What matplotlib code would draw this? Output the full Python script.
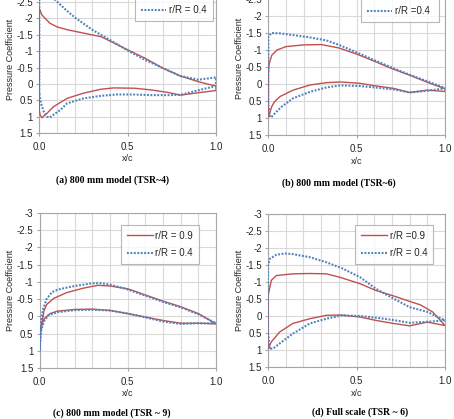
import matplotlib

matplotlib.use("Agg")

import matplotlib.pyplot as plt
from matplotlib.ticker import FuncFormatter, MultipleLocator

plt.rcParams["font.family"] = ["Liberation Sans", "DejaVu Sans"]
plt.rcParams["axes.unicode_minus"] = False

RED = "#C0504D"
BLUE = "#4F81BD"

# ---------------------------------------------------------------- data
# (a) 800 mm model, TSR ~ 4
a_red_up_x = [0.0, 0.0, 0.015, 0.06, 0.1, 0.16, 0.25, 0.35, 0.44, 0.5, 0.6, 0.7, 0.8, 0.9, 0.95, 1.0]
a_red_up_cp = [0.8, -2.3, -2.1, -1.85, -1.74, -1.65, -1.55, -1.44, -1.2, -1.04, -0.78, -0.48, -0.24, -0.07, 0.0, 0.06]
a_red_lo_x = [1.0, 0.91, 0.8, 0.73, 0.63, 0.54, 0.42, 0.35, 0.25, 0.157, 0.081, 0.044, 0.025, 0.015, 0.005, 0.0]
a_red_lo_cp = [0.2, 0.26, 0.34, 0.26, 0.18, 0.13, 0.12, 0.16, 0.28, 0.44, 0.69, 0.89, 0.98, 1.03, 0.95, 0.8]
a_blue_up_x = [0.0, 0.0, 0.05, 0.09, 0.15, 0.2, 0.3, 0.4, 0.5, 0.6, 0.7, 0.8, 0.9, 1.0]
a_blue_up_cp = [0.3, -3.3, -3.0, -2.56, -2.26, -2.03, -1.65, -1.34, -1.02, -0.73, -0.48, -0.24, -0.13, -0.2]
a_blue_lo_x = [1.0, 0.91, 0.8, 0.73, 0.63, 0.53, 0.44, 0.35, 0.25, 0.157, 0.12, 0.09, 0.06, 0.044, 0.025, 0.01, 0.0]
a_blue_lo_cp = [0.06, 0.18, 0.33, 0.34, 0.34, 0.32, 0.32, 0.36, 0.44, 0.59, 0.79, 0.9, 1.02, 1.0, 0.84, 0.6, 0.3]

# (b) 800 mm model, TSR ~ 6
b_red_up_x = [0.0, 0.0, 0.005, 0.02, 0.05, 0.1, 0.2, 0.3, 0.4, 0.5, 0.6, 0.7, 0.8, 0.9, 1.0]
b_red_up_cp = [0.95, -0.3, -0.6, -0.85, -1.0, -1.1, -1.15, -1.16, -1.06, -0.88, -0.67, -0.45, -0.26, -0.05, 0.14]
b_red_lo_x = [1.0, 0.9, 0.8, 0.71, 0.6, 0.52, 0.41, 0.33, 0.236, 0.14, 0.066, 0.035, 0.019, 0.005, 0.0]
b_red_lo_cp = [0.22, 0.18, 0.25, 0.13, 0.05, -0.02, -0.06, -0.04, 0.03, 0.18, 0.37, 0.52, 0.67, 0.9, 0.96]
b_blue_up_x = [0.01, 0.0, 0.0, 0.019, 0.066, 0.14, 0.236, 0.33, 0.4, 0.5, 0.6, 0.7, 0.8, 0.9, 1.0]
b_blue_up_cp = [0.97, 0.6, -1.4, -1.5, -1.49, -1.44, -1.37, -1.28, -1.15, -0.93, -0.7, -0.48, -0.27, -0.08, 0.12]
b_blue_lo_x = [1.0, 0.9, 0.8, 0.71, 0.6, 0.52, 0.41, 0.33, 0.236, 0.14, 0.075, 0.04, 0.02, 0.01]
b_blue_lo_cp = [0.13, 0.2, 0.25, 0.16, 0.1, 0.06, 0.04, 0.1, 0.23, 0.42, 0.67, 0.85, 0.96, 0.98]

# (c) 800 mm model, TSR ~ 9
c_red_up_x = [0.0, 0.005, 0.015, 0.025, 0.04, 0.08, 0.155, 0.25, 0.33, 0.4, 0.5, 0.6, 0.7, 0.8, 0.9, 1.0]
c_red_up_cp = [1.0, 0.44, 0.15, -0.15, -0.34, -0.52, -0.69, -0.82, -0.9, -0.88, -0.8, -0.62, -0.44, -0.28, -0.08, 0.22]
c_red_lo_x = [1.0, 0.9, 0.8, 0.7, 0.6, 0.5, 0.4, 0.3, 0.2, 0.1, 0.06, 0.03, 0.015, 0.005, 0.0]
c_red_lo_cp = [0.22, 0.2, 0.2, 0.12, 0.02, -0.08, -0.17, -0.21, -0.2, -0.15, -0.08, 0.05, 0.2, 0.45, 1.0]
c_blue_up_x = [0.0, 0.005, 0.01, 0.02, 0.04, 0.07, 0.1, 0.15, 0.2, 0.3, 0.35, 0.4, 0.5, 0.6, 0.7, 0.8, 0.9, 1.0]
c_blue_up_cp = [1.0, 0.35, 0.1, -0.2, -0.5, -0.7, -0.77, -0.83, -0.88, -0.96, -0.96, -0.92, -0.78, -0.6, -0.42, -0.26, -0.06, 0.2]
c_blue_lo_x = [1.0, 0.9, 0.8, 0.7, 0.6, 0.5, 0.4, 0.3, 0.2, 0.1, 0.05, 0.025, 0.01, 0.0]
c_blue_lo_cp = [0.2, 0.2, 0.22, 0.15, 0.03, -0.08, -0.17, -0.19, -0.18, -0.12, -0.03, 0.15, 0.4, 1.0]

# (d) Full scale, TSR ~ 6
d_red_up_x = [0.0, 0.0, 0.019, 0.047, 0.14, 0.235, 0.33, 0.405, 0.52, 0.61, 0.71, 0.8, 0.86, 0.93, 1.0]
d_red_up_cp = [0.96, -0.6, -1.05, -1.19, -1.24, -1.25, -1.24, -1.14, -0.95, -0.75, -0.59, -0.43, -0.33, -0.12, 0.28]
d_red_lo_x = [1.0, 0.9, 0.8, 0.71, 0.61, 0.52, 0.405, 0.33, 0.236, 0.14, 0.066, 0.019, 0.0]
d_red_lo_cp = [0.28, 0.18, 0.29, 0.22, 0.13, 0.03, -0.03, -0.02, 0.08, 0.22, 0.47, 0.76, 0.96]
d_blue_up_x = [0.01, 0.0, 0.0, 0.01, 0.047, 0.094, 0.14, 0.236, 0.33, 0.42, 0.52, 0.61, 0.71, 0.8, 0.9, 1.0]
d_blue_up_cp = [0.96, 0.5, -1.5, -1.68, -1.8, -1.84, -1.82, -1.73, -1.58, -1.4, -1.14, -0.8, -0.51, -0.26, -0.12, 0.13]
d_blue_lo_x = [1.0, 0.9, 0.8, 0.71, 0.61, 0.52, 0.42, 0.33, 0.236, 0.14, 0.066, 0.028, 0.01]
d_blue_lo_cp = [0.13, 0.17, 0.2, 0.12, 0.05, 0.0, -0.02, 0.08, 0.22, 0.52, 0.81, 0.96, 0.96]

captions = [
    "(a) 800 mm model (TSR~4)",
    "(b) 800 mm model (TSR~6)",
    "(c) 800 mm model (TSR ~ 9)",
    "(d) Full scale (TSR ~ 6)",
]
legend_labels = [
    ("r/R = 0.9", "r/R = 0.4"),
    ("r/R = 0.9", "r/R =0.4"),
    ("r/R = 0.9", "r/R = 0.4"),
    ("r/R =0.9", "r/R = 0.4"),
]

W, H = 454, 419


def fig_rect(left, top, right, bottom):
    """Pixel box (from top-left) -> figure fraction rect."""
    return [left / W, 1 - bottom / H, (right - left) / W, (bottom - top) / H]


def draw_panel(fig, rect, red, blue, labels, caption, legend_loc, legend_anchor,
               xlabel_y, caption_y, caption_x):
    ax = fig.add_axes(rect)

    red_x = red[0] + red[2]
    red_cp = red[1] + red[3]
    blue_x = blue[0] + blue[2]
    blue_cp = blue[1] + blue[3]

    ax.plot(red_x, red_cp, color=RED, lw=1.0, label=labels[0], zorder=3)
    ax.plot(blue_x, blue_cp, color=BLUE, lw=1.5, dashes=(0.9, 0.75),
            dash_capstyle="butt", label=labels[1], zorder=3)

    ax.set_xlim(0, 1)
    ax.set_ylim(1.5, -3)
    ax.xaxis.set_major_locator(MultipleLocator(0.5))
    ax.xaxis.set_minor_locator(MultipleLocator(0.1))
    ax.yaxis.set_major_locator(MultipleLocator(0.5))
    ax.xaxis.set_major_formatter(FuncFormatter(lambda v, p: f"{v:.1f}"))
    ax.yaxis.set_major_formatter(FuncFormatter(lambda v, p: f"{v:g}"))

    ax.grid(True, which="both", axis="x", color="#d9d9d9", lw=0.8)
    ax.grid(True, which="major", axis="y", color="#d9d9d9", lw=0.8)
    ax.set_axisbelow(True)
    for spine in ax.spines.values():
        spine.set_color("#a6a6a6")
        spine.set_linewidth(0.8)

    ax.tick_params(axis="both", which="major", labelsize=7, length=2.5,
                   color="#a6a6a6", labelcolor="#262626", pad=2)
    ax.tick_params(axis="x", which="minor", length=0)
    ax.tick_params(axis="x", pad=4)

    ax.set_ylabel("Pressure Coefficient", fontsize=6.5, color="#262626", labelpad=1)

    leg = ax.legend(loc=legend_loc, bbox_to_anchor=legend_anchor, fontsize=7,
                    frameon=True, fancybox=False, handlelength=2.6,
                    handletextpad=0.3, labelspacing=0.75, borderpad=0.6,
                    borderaxespad=0)
    leg.get_frame().set_edgecolor("#a6a6a6")
    leg.get_frame().set_linewidth(0.8)
    for text in leg.get_texts():
        text.set_color("#262626")

    x_center = rect[0] + rect[2] / 2
    fig.text(x_center, 1 - xlabel_y / H, "x/c", ha="center", va="center",
             fontsize=6.5, color="#262626")
    fig.text(caption_x / W, 1 - caption_y / H, caption, ha="center", va="center",
             fontsize=7, fontweight="bold", family=["Liberation Serif", "DejaVu Serif"])
    return ax


fig = plt.figure(figsize=(W / 100, H / 100), dpi=100)

panels = [
    dict(rect=fig_rect(39.3, -14.5, 216, 133.2),
         red=(a_red_up_x, a_red_up_cp, a_red_lo_x, a_red_lo_cp),
         blue=(a_blue_up_x, a_blue_up_cp, a_blue_lo_x, a_blue_lo_cp),
         legend_loc="lower right", legend_anchor=(0.983, 0.76),
         xlabel_y=158, caption_y=180, caption_x=112),
    dict(rect=fig_rect(268.3, -18, 445, 135),
         red=(b_red_up_x, b_red_up_cp, b_red_lo_x, b_red_lo_cp),
         blue=(b_blue_up_x, b_blue_up_cp, b_blue_lo_x, b_blue_lo_cp),
         legend_loc="lower right", legend_anchor=(0.966, 0.739),
         xlabel_y=161, caption_y=183, caption_x=339),
    dict(rect=fig_rect(39.5, 213, 216, 368),
         red=(c_red_up_x, c_red_up_cp, c_red_lo_x, c_red_lo_cp),
         blue=(c_blue_up_x, c_blue_up_cp, c_blue_lo_x, c_blue_lo_cp),
         legend_loc="upper right", legend_anchor=(0.904, 0.923),
         xlabel_y=393, caption_y=413, caption_x=112),
    dict(rect=fig_rect(268, 214, 445, 367),
         red=(d_red_up_x, d_red_up_cp, d_red_lo_x, d_red_lo_cp),
         blue=(d_blue_up_x, d_blue_up_cp, d_blue_lo_x, d_blue_lo_cp),
         legend_loc="upper right", legend_anchor=(0.932, 0.928),
         xlabel_y=393, caption_y=412, caption_x=360),
]

for i, p in enumerate(panels):
    draw_panel(fig, p["rect"], p["red"], p["blue"], legend_labels[i], captions[i],
               p["legend_loc"], p["legend_anchor"], p["xlabel_y"],
               p["caption_y"], p["caption_x"])

fig.savefig("out.png", dpi=100)
